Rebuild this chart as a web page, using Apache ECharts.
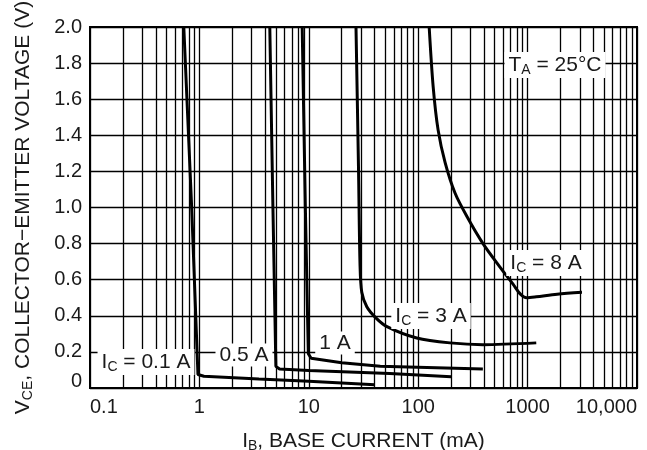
<!DOCTYPE html>
<html>
<head>
<meta charset="utf-8">
<script src="https://cdn.jsdelivr.net/npm/echarts@6/dist/echarts.min.js"></script>
<style>
  html, body { margin: 0; padding: 0; background: #fff; }
  #chart { width: 647px; height: 450px; }
</style>
</head>
<body>
<div id="chart"></div>
<script>
// x axis (I_B, mA) decade labels
const ibTickLabels = ['0.1', '1', '10', '100', '1000', '10,000'];
// minor vertical grid lines between decades (mA)
const ibMinorLines = [
  0.2, 0.3, 0.4, 0.5, 0.6, 0.7, 0.8, 0.9,
  2, 3, 4, 5, 6, 7, 8, 9,
  20, 30, 40, 50, 60, 70, 80, 90,
  200, 300, 400, 500, 600, 700, 800, 900,
  2000, 3000, 4000, 5000, 6000, 7000, 8000, 9000
];

// [I_B mA, V_CE V]
const ic01Curve = [[0.72, 2.0], [0.85, 1.0], [0.97, 0.075], [1.1, 0.065], [3.5, 0.05], [10, 0.038], [40, 0.018]];
const ic05Curve = [[4.4, 2.0], [4.7, 1.0], [5.0, 0.12], [5.4, 0.105], [10, 0.097], [55, 0.08], [200, 0.062]];
const ic1Curve = [[8.7, 2.0], [9.3, 1.0], [9.9, 0.19], [10.5, 0.165], [20, 0.14], [45, 0.12], [390, 0.105]];
const ic3Curve = [[27, 2.0], [28.5, 1.2], [29.4, 0.68], [30.5, 0.53], [33.9, 0.45], [40.8, 0.39], [51.8, 0.34],
  [97, 0.277], [195, 0.25], [390, 0.24], [1200, 0.25]];
const ic8Curve = [[126, 2.0], [137, 1.67], [152, 1.43], [176, 1.25], [217, 1.08], [279, 0.95], [391, 0.80],
  [559, 0.67], [736, 0.575], [860, 0.52], [980, 0.5], [1200, 0.505], [1860, 0.52], [3140, 0.53]];

const FONT = 'Liberation Sans, Arial, sans-serif';
const INK = '#1a1a1a';

const chart = echarts.init(document.getElementById('chart'), null, { renderer: 'canvas' });

const curve = (name, data, smooth) => ({
  name,
  type: 'line',
  data,
  z: 3,
  showSymbol: false,
  smooth,
  lineStyle: { color: '#000', width: 3 },
  silent: true
});

// label text with white box, subscript via rich text
const note = (x, y, text) => ({
  type: 'text',
  x, y, z: 10,
  style: {
    text,
    fontFamily: FONT,
    fontSize: 21,
    fill: INK,
    align: 'center',
    verticalAlign: 'middle',
    backgroundColor: '#fff',
    padding: [1, 4],
    rich: {
      m: { fontFamily: FONT, fontSize: 21, fill: INK },
      s: { fontFamily: FONT, fontSize: 14, fill: INK, padding: [10, 0, 0, 0] }
    }
  }
});

const option = {
  animation: false,
  backgroundColor: '#fff',
  textStyle: { fontFamily: FONT },
  grid: {
    left: 90, right: 10, top: 27, bottom: 62,
    outerBoundsMode: 'none',
    show: true, borderColor: '#000', borderWidth: 2
  },
  xAxis: {
    type: 'log',
    logBase: 10,
    min: 0.1,
    max: 10000,
    name: '{m|I}{s|B}{m|, BASE CURRENT (mA)}',
    nameLocation: 'middle',
    nameGap: 41,
    nameTextStyle: {
      rich: {
        m: { fontFamily: FONT, fontSize: 21, color: INK },
        s: { fontFamily: FONT, fontSize: 14, color: INK, padding: [10, 0, 0, 0] }
      }
    },
    axisLine: { show: true, lineStyle: { color: '#000', width: 2 } },
    axisTick: { show: false },
    splitLine: { show: true, lineStyle: { color: '#000', width: 1.3 } },
    axisLabel: {
      fontSize: 20,
      color: INK,
      margin: 9,
      alignMinLabel: 'left',
      alignMaxLabel: 'right',
      formatter: v => ibTickLabels[Math.round(Math.log10(v)) + 1]
    }
  },
  yAxis: {
    type: 'value',
    min: 0,
    max: 2,
    interval: 0.2,
    name: '{m|V}{s|CE}{m|, COLLECTOR\u2212EMITTER VOLTAGE (V)}',
    nameLocation: 'middle',
    nameRotate: 90,
    nameGap: 55,
    nameTextStyle: {
      rich: {
        m: { fontFamily: FONT, fontSize: 21, color: INK },
        s: { fontFamily: FONT, fontSize: 14, color: INK, padding: [10, 0, 0, 0] }
      }
    },
    axisLine: { show: true, lineStyle: { color: '#000', width: 2 } },
    axisTick: { show: false },
    splitLine: { show: true, lineStyle: { color: '#000', width: 1.3 } },
    axisLabel: {
      fontSize: 20,
      color: INK,
      margin: 8,
      formatter: v => (v === 0 ? '{z|0}' : v.toFixed(1)),
      rich: {
        z: { fontFamily: FONT, fontSize: 20, color: INK, padding: [0, 0, 14, 0] }
      }
    }
  },
  series: [
    {
      name: 'grid',
      type: 'line',
      data: [],
      z: 1,
      silent: true,
      markLine: {
        silent: true,
        symbol: ['none', 'none'],
        label: { show: false },
        lineStyle: { color: '#000', width: 1.3, type: 'solid' },
        emphasis: { disabled: true },
        data: ibMinorLines.map(v => ({ xAxis: v }))
      }
    },
    curve('IC = 0.1 A', ic01Curve, false),
    curve('IC = 0.5 A', ic05Curve, false),
    curve('IC = 1 A', ic1Curve, false),
    curve('IC = 3 A', ic3Curve, 0.3),
    curve('IC = 8 A', ic8Curve, 0.3)
  ],
  graphic: [
    note(146, 362, '{m|I}{s|C}{m| = 0.1 A}'),
    note(244, 355, '{m|0.5 A}'),
    note(335, 343, '{m|1 A}'),
    note(431, 316, '{m|I}{s|C}{m| = 3 A}'),
    note(546, 263, '{m|I}{s|C}{m| = 8 A}'),
    note(555, 65, '{m|T}{s|A}{m| = 25\u00b0C}')
  ]
};

chart.setOption(option);
</script>
</body>
</html>
